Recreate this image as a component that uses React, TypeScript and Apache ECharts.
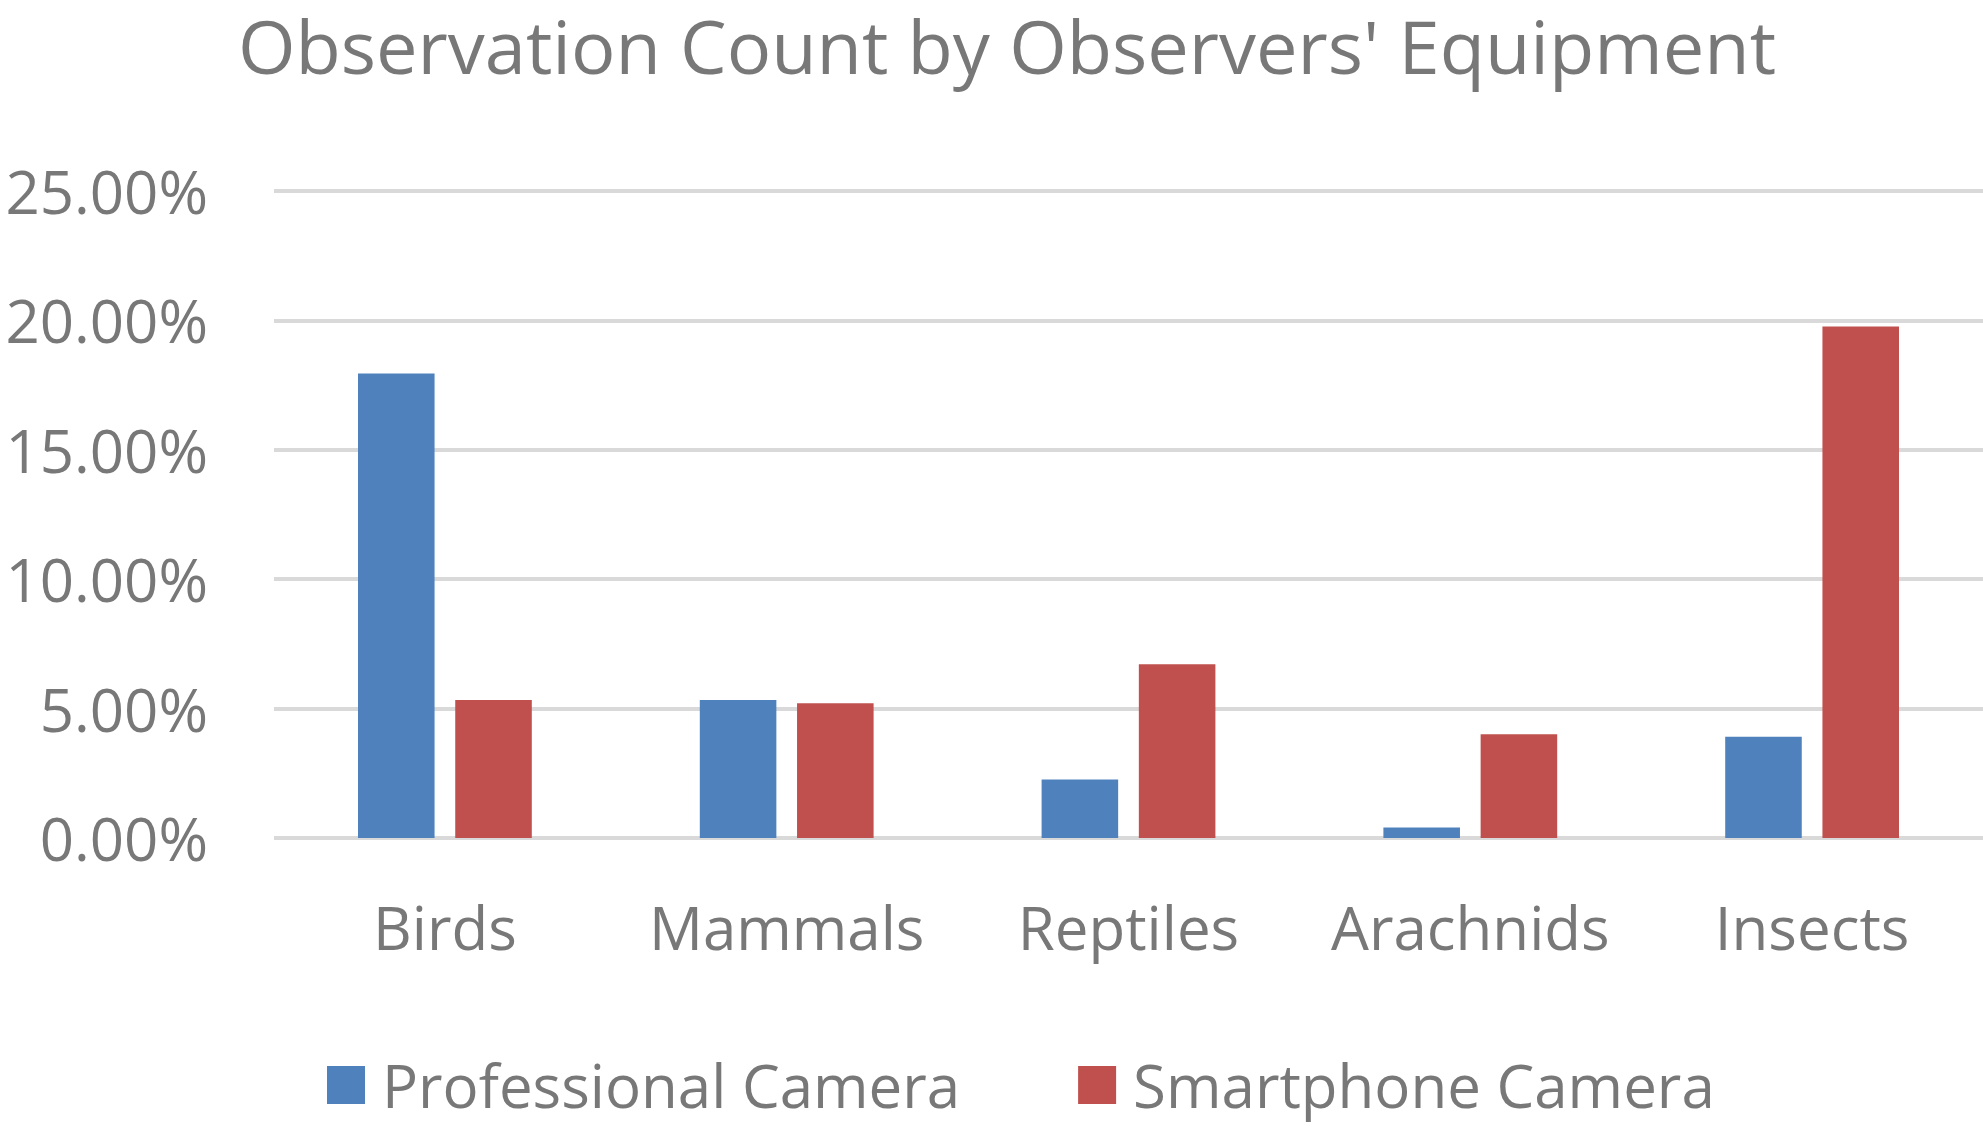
import React, { useEffect, useRef } from "react";
import * as echarts from "echarts";

const categories = ["Birds", "Mammals", "Reptiles", "Arachnids", "Insects"];
const professionalCamera = [17.95, 5.33, 2.26, 0.41, 3.91];
const smartphoneCamera = [5.33, 5.21, 6.71, 4.01, 19.76];
const seriesNames = ["Professional Camera", "Smartphone Camera"];
const titleText = "Observation Count by Observers' Equipment";

const FONT = "Open Sans";
const TEXT = "#787878";

export default function App() {
  const ref = useRef<HTMLDivElement>(null);
  useEffect(() => {
    if (!ref.current) return;
    const chart = echarts.init(ref.current, undefined, { renderer: "svg" });
    chart.setOption({
      animation: false,
      backgroundColor: "#ffffff",
      title: {
        text: titleText,
        left: 1007,
        top: 8,
        padding: 0,
        textAlign: "center",
        textStyle: { fontFamily: FONT, fontSize: 74, fontWeight: "normal", color: TEXT },
      },
      legend: {
        data: seriesNames,
        left: 327,
        top: 1055,
        padding: 0,
        itemWidth: 38,
        itemHeight: 38,
        itemGap: 118,
        icon: "rect",
        textStyle: { fontFamily: FONT, fontSize: 60, color: TEXT, padding: [0, 0, 6, 12] },
      },
      grid: { left: 274, right: 0, top: 191, bottom: 291, containLabel: false },
      xAxis: {
        type: "category",
        data: categories,
        axisLine: { show: false },
        axisTick: { show: false },
        axisLabel: { interval: 0, margin: 59, fontFamily: FONT, fontSize: 60, color: TEXT },
      },
      yAxis: {
        type: "value",
        min: 0,
        max: 25,
        interval: 5,
        axisLine: { show: false },
        axisTick: { show: false },
        splitLine: { show: true, lineStyle: { color: "#d9d9d9", width: 4 } },
        axisLabel: {
          margin: 66,
          fontFamily: FONT,
          fontSize: 60,
          color: TEXT,
          formatter: (v: number) => v.toFixed(2) + "%",
        },
      },
      series: [
        {
          name: seriesNames[0],
          type: "bar",
          data: professionalCamera,
          barWidth: "22.4%",
          barGap: "27%",
          itemStyle: { color: "#4f81bd" },
        },
        {
          name: seriesNames[1],
          type: "bar",
          data: smartphoneCamera,
          barWidth: "22.4%",
          barGap: "27%",
          itemStyle: { color: "#c0504d" },
        },
      ],
    });
    return () => chart.dispose();
  }, []);
  return (
    <div
      ref={ref}
      style={{ position: "fixed", left: 0, top: 0, width: 1983, height: 1129 }}
    />
  );
}
